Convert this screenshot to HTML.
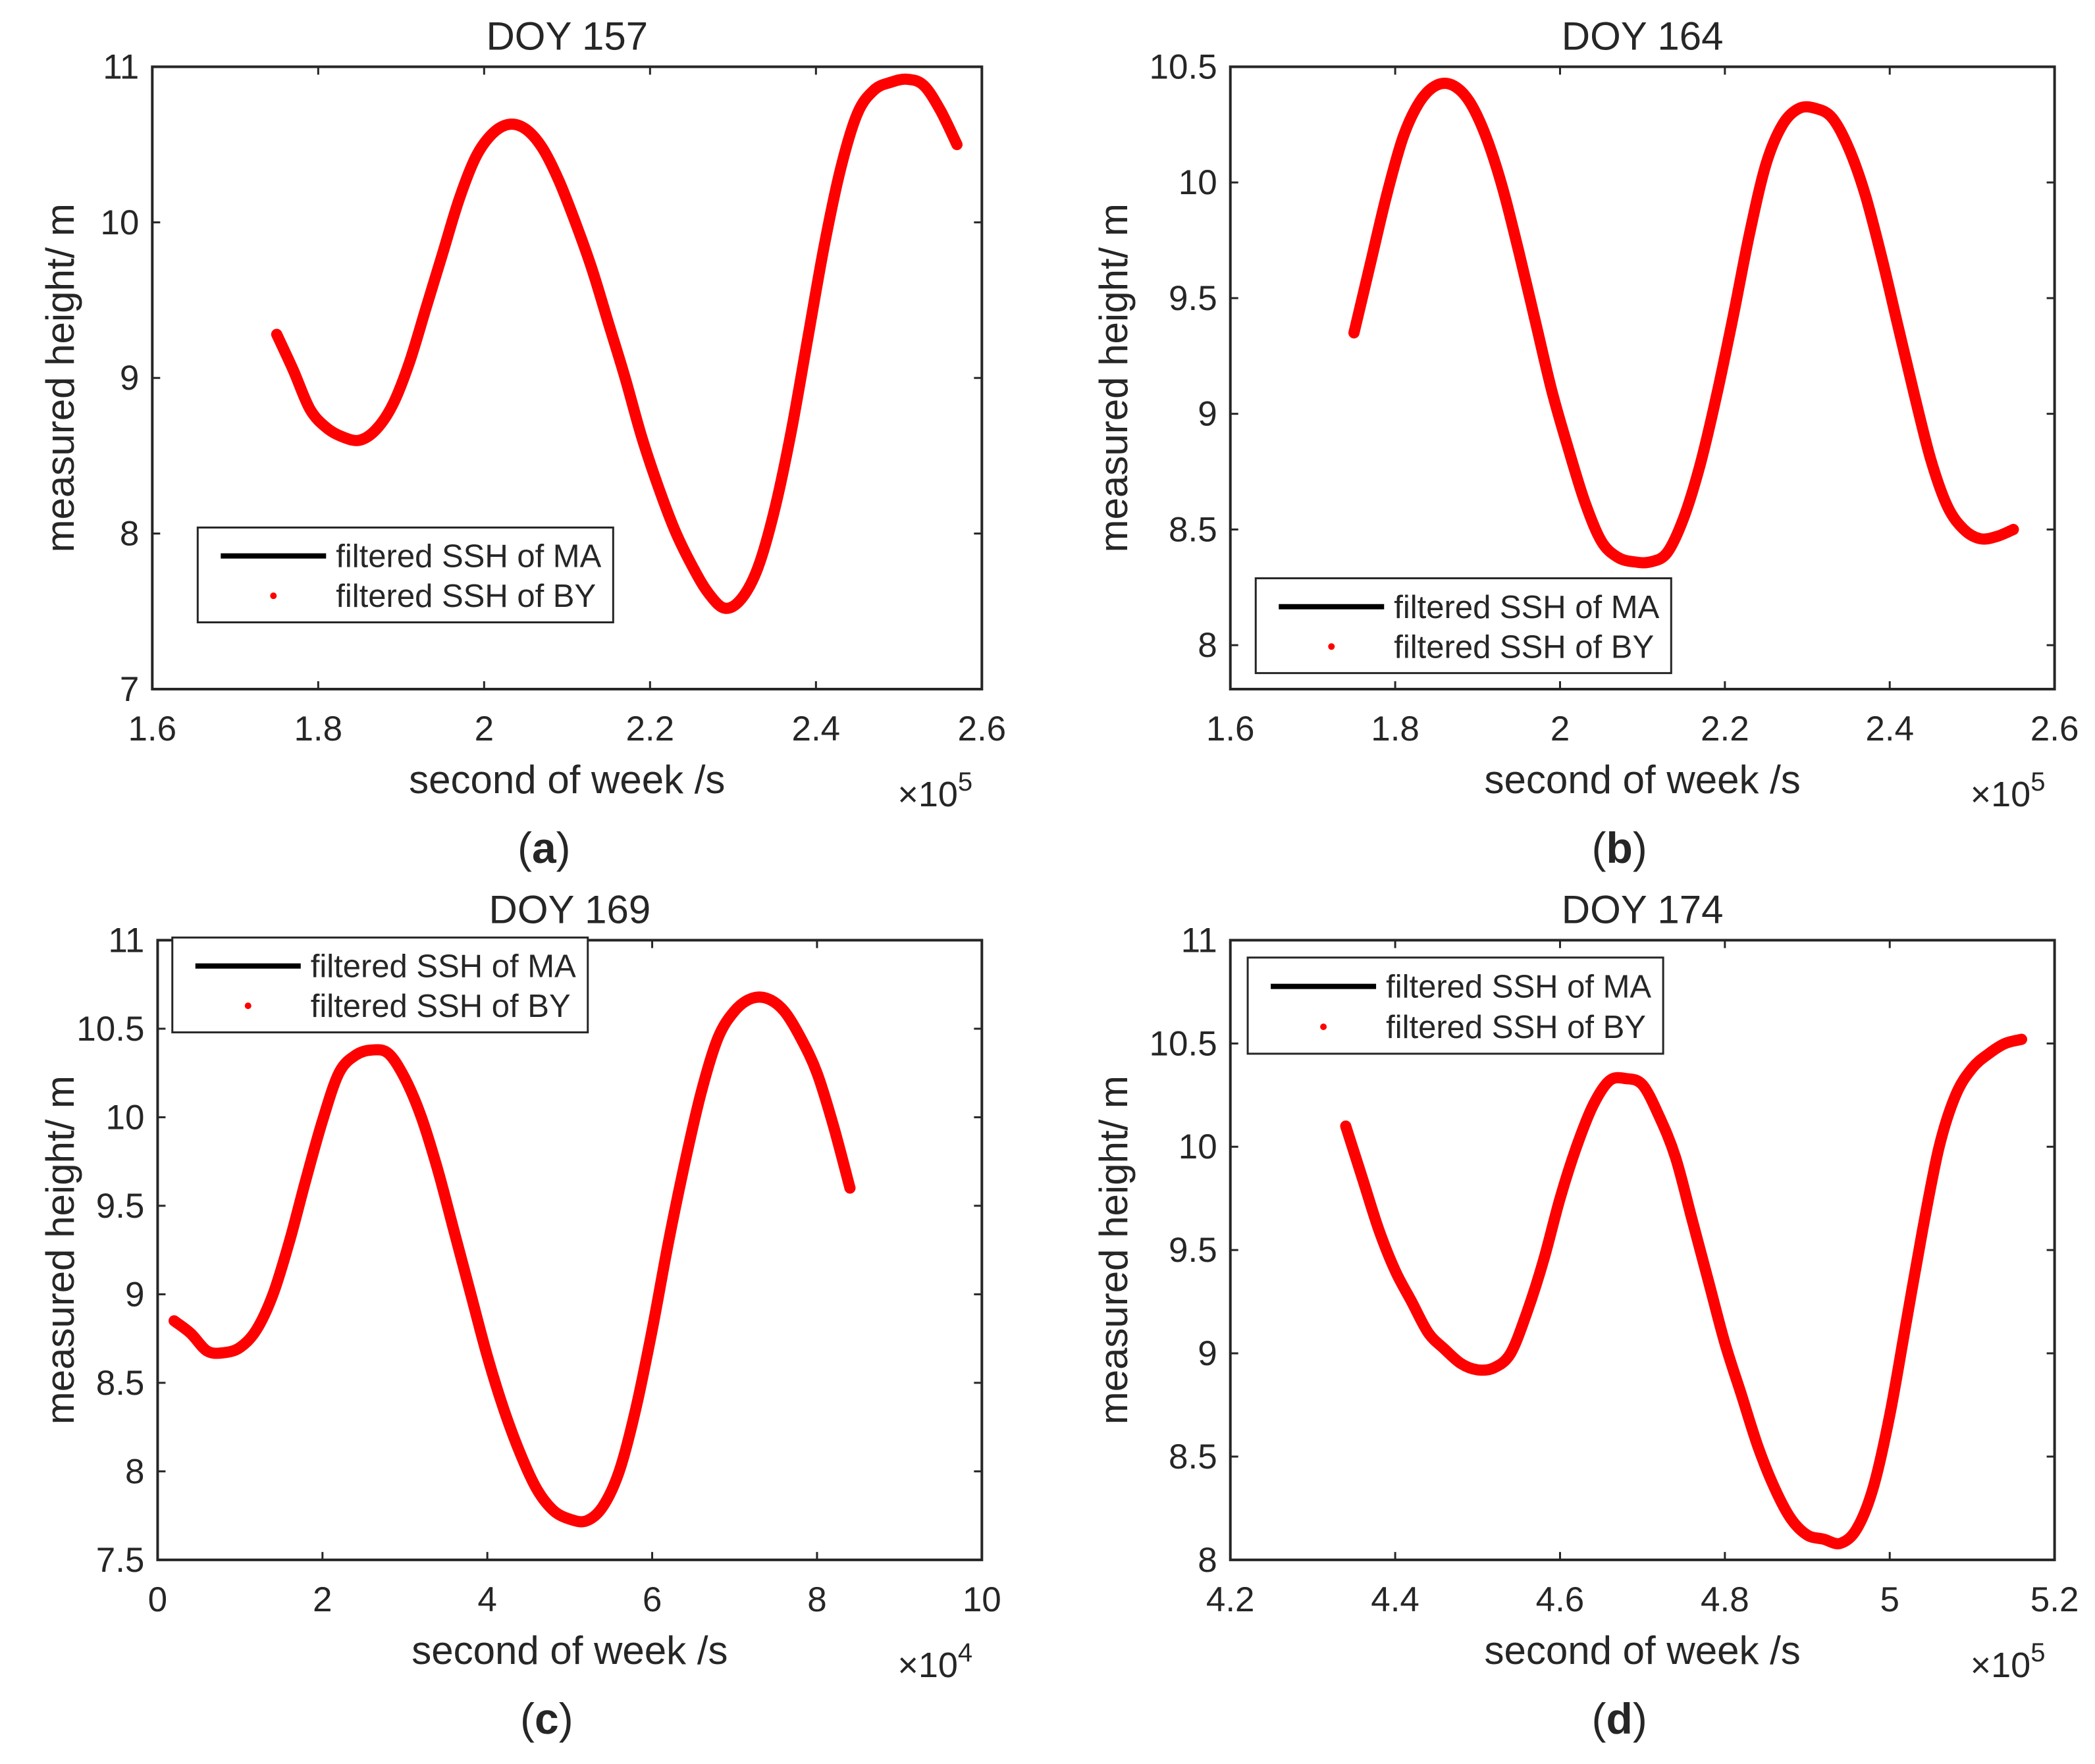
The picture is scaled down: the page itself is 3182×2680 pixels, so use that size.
<!DOCTYPE html>
<html><head><meta charset="utf-8"><style>
html,body{margin:0;padding:0;background:#fff;}
svg{display:block;}
text{font-family:"Liberation Sans",sans-serif;fill:#262626;}
</style></head><body>
<svg id="fig" width="3182" height="2680" viewBox="0 0 3182 2680" xmlns="http://www.w3.org/2000/svg"></svg>
<script>
// Panel (a) DOY 157
const xA=[1.75,1.77,1.79,1.81,1.83,1.85,1.87,1.89,1.91,1.93,1.95,1.97,1.99,2.01,2.03,2.05,2.07,2.09,2.11,2.13,2.15,2.17,2.19,2.21,2.23,2.25,2.27,2.29,2.31,2.33,2.35,2.37,2.39,2.41,2.43,2.45,2.47,2.49,2.51,2.53,2.55,2.57];
const yA=[9.28,9.05,8.8,8.68,8.62,8.6,8.67,8.83,9.1,9.45,9.8,10.15,10.42,10.57,10.63,10.6,10.48,10.27,10.0,9.7,9.35,9.0,8.62,8.3,8.02,7.8,7.62,7.52,7.58,7.78,8.15,8.65,9.25,9.85,10.35,10.7,10.85,10.9,10.92,10.88,10.72,10.5];
// Panel (b) DOY 164
const xB=[1.75,1.77,1.79,1.81,1.83,1.85,1.87,1.89,1.91,1.93,1.95,1.97,1.99,2.01,2.03,2.05,2.07,2.09,2.11,2.13,2.15,2.17,2.19,2.21,2.23,2.25,2.27,2.29,2.31,2.33,2.35,2.37,2.39,2.41,2.43,2.45,2.47,2.49,2.51,2.53,2.55];
const yB=[9.35,9.65,9.95,10.2,10.35,10.42,10.42,10.35,10.2,9.98,9.7,9.4,9.1,8.85,8.62,8.45,8.38,8.36,8.36,8.4,8.55,8.78,9.08,9.42,9.78,10.08,10.25,10.32,10.32,10.28,10.15,9.95,9.68,9.38,9.08,8.8,8.6,8.5,8.46,8.47,8.5];
// Panel (c) DOY 169
const xC=[0.2,0.4,0.6,0.8,1.0,1.2,1.4,1.6,1.8,2.0,2.2,2.4,2.6,2.8,3.0,3.2,3.4,3.6,3.8,4.0,4.2,4.4,4.6,4.8,5.0,5.2,5.4,5.6,5.8,6.0,6.2,6.4,6.6,6.8,7.0,7.2,7.4,7.6,7.8,8.0,8.2,8.4];
const yC=[8.85,8.78,8.68,8.67,8.7,8.8,9.0,9.3,9.65,9.98,10.25,10.35,10.38,10.36,10.22,10.0,9.7,9.35,9.0,8.65,8.35,8.1,7.9,7.78,7.73,7.72,7.8,8.0,8.35,8.8,9.3,9.75,10.15,10.45,10.6,10.67,10.67,10.6,10.45,10.25,9.95,9.6];
// Panel (d) DOY 174
const xD=[4.34,4.36,4.38,4.40,4.42,4.44,4.46,4.48,4.50,4.52,4.54,4.56,4.58,4.60,4.62,4.64,4.66,4.68,4.70,4.72,4.74,4.76,4.78,4.80,4.82,4.84,4.86,4.88,4.90,4.92,4.94,4.96,4.98,5.00,5.02,5.04,5.06,5.08,5.10,5.12,5.14,5.16];
const yD=[10.1,9.85,9.6,9.4,9.25,9.1,9.02,8.95,8.92,8.93,9.0,9.2,9.45,9.75,10.0,10.2,10.32,10.33,10.3,10.15,9.95,9.65,9.35,9.05,8.8,8.55,8.35,8.2,8.12,8.1,8.08,8.15,8.35,8.7,9.15,9.6,10.0,10.25,10.38,10.45,10.5,10.52];
const xTicksAB=[1.6,1.8,2,2.2,2.4,2.6];
const xTicksC=[0,2,4,6,8,10];
const xTicksD=[4.2,4.4,4.6,4.8,5,5.2];
const yTicksA=[7,8,9,10,11];
const yTicksB=[8,8.5,9,9.5,10,10.5];
const yTicksC=[7.5,8,8.5,9,9.5,10,10.5,11];
const yTicksD=[8,8.5,9,9.5,10,10.5,11];

const S=2.029;
const NS="http://www.w3.org/2000/svg";
const svg=document.getElementById('fig');
function mk(tag,attrs,parent){const e=document.createElementNS(NS,tag);for(const k in attrs)e.setAttribute(k,attrs[k]);(parent||svg).appendChild(e);return e;}
function smoothPath(P){
  let d='M'+P[0][0].toFixed(1)+','+P[0][1].toFixed(1);
  for(let i=0;i<P.length-1;i++){
    const p0=P[i-1]||P[i],p1=P[i],p2=P[i+1],p3=P[i+2]||P[i+1];
    const c1=[p1[0]+(p2[0]-p0[0])/6,p1[1]+(p2[1]-p0[1])/6];
    const c2=[p2[0]-(p3[0]-p1[0])/6,p2[1]-(p3[1]-p1[1])/6];
    d+=' C'+c1[0].toFixed(1)+','+c1[1].toFixed(1)+' '+c2[0].toFixed(1)+','+c2[1].toFixed(1)+' '+p2[0].toFixed(1)+','+p2[1].toFixed(1);
  }
  return d;
}

const panels=[
 {id:'a',title:'DOY 157',L:114,R:735,T:50,B:516,x0:1.6,x1:2.6,y0:7,y1:11,xs:xA,ys:yA,xt:xTicksAB,yt:yTicksA,exp:'5',leg:[148,395,459,466]},
 {id:'b',title:'DOY 164',L:921,R:1538,T:50,B:516,x0:1.6,x1:2.6,y0:7.81,y1:10.5,xs:xB,ys:yB,xt:xTicksAB,yt:yTicksB,exp:'5',leg:[940,433,1251,504]},
 {id:'c',title:'DOY 169',L:118,R:735,T:704,B:1168,x0:0,x1:10,y0:7.5,y1:11,xs:xC,ys:yC,xt:xTicksC,yt:yTicksC,exp:'4',leg:[129,702,440,773]},
 {id:'d',title:'DOY 174',L:921,R:1538,T:704,B:1168,x0:4.2,x1:5.2,y0:8,y1:11,xs:xD,ys:yD,xt:xTicksD,yt:yTicksD,exp:'5',leg:[934,717,1245,789]}
];

panels.forEach(p=>{
  const L=p.L*S,R=p.R*S,T=p.T*S,B=p.B*S;
  const X=v=>L+(v-p.x0)/(p.x1-p.x0)*(R-L);
  const Y=v=>B-(v-p.y0)/(p.y1-p.y0)*(B-T);
  const g=mk('g',{});
  
  
  const t=mk('text',{x:(L+R)/2,y:T-26,'font-size':60,'text-anchor':'middle'},g);t.textContent=p.title;
  
  
  const P=p.xs.map((x,i)=>[X(x),Y(p.ys[i])]);
  const d=smoothPath(P);
  const lm=mk('path',{d:d,fill:'none',stroke:'#000','stroke-width':10,'stroke-linejoin':'round'},g);
  
  
  const lb=mk('path',{d:d,fill:'none',stroke:'#ff0000','stroke-width':17,'stroke-linejoin':'round','stroke-linecap':'round'},g);
  
  
  const bx=mk('rect',{x:L,y:T,width:R-L,height:B-T,fill:'none',stroke:'#262626','stroke-width':4},g);
  
  
  const tl=12;
  p.xt.forEach(v=>{
    const x=X(v);
    mk('line',{x1:x,y1:B,x2:x,y2:B-tl,stroke:'#262626','stroke-width':3},g);
    mk('line',{x1:x,y1:T,x2:x,y2:T+tl,stroke:'#262626','stroke-width':3},g);
    const tx=mk('text',{x:x,y:B+78,'font-size':53,'text-anchor':'middle'},g);tx.textContent=String(v);
    
    
  });
  p.yt.forEach(v=>{
    const y=Y(v);
    mk('line',{x1:L,y1:y,x2:L+tl,y2:y,stroke:'#262626','stroke-width':3},g);
    mk('line',{x1:R,y1:y,x2:R-tl,y2:y,stroke:'#262626','stroke-width':3},g);
    const ty=mk('text',{x:L-20,y:y+18,'font-size':53,'text-anchor':'end'},g);ty.textContent=String(v);
    
    
  });
  const xl=mk('text',{x:(L+R)/2,y:B+158,'font-size':60,'text-anchor':'middle'},g);xl.textContent='second of week /s';
  
  
  const ex=mk('text',{x:R-128,y:B+178,'font-size':54},g);
  ex.innerHTML='\u00d710<tspan dy="-24" font-size="40">'+p.exp+'</tspan>';
  
  
  const yx=(p.id==='a'||p.id==='c')?112:1712;
  const yl=mk('text',{x:yx,y:(T+B)/2,'font-size':60,'text-anchor':'middle',transform:'rotate(-90 '+yx+' '+(T+B)/2+')'},g);yl.textContent='measured height/ m';
  
  
  const cap=mk('text',{x:(L+R)/2-35,y:B+264,'font-size':66,'text-anchor':'middle','font-family':'Liberation Serif, serif'},g);
  cap.innerHTML='(<tspan font-weight="bold">'+p.id+'</tspan>)';
  
  
  const [lx1,ly1,lx2,ly2]=p.leg.map(v=>v*S);
  const lg=mk('g',{},g);
  
  
  mk('rect',{x:lx1,y:ly1,width:lx2-lx1,height:ly2-ly1,fill:'#fff',stroke:'#262626','stroke-width':3},lg);
  const h=ly2-ly1;
  mk('line',{x1:lx1+35,y1:ly1+h*0.3,x2:lx1+195,y2:ly1+h*0.3,stroke:'#000','stroke-width':8},lg);
  mk('circle',{cx:lx1+115,cy:ly1+h*0.72,r:5,fill:'#ff0000'},lg);
  const e1=mk('text',{x:lx1+210,y:ly1+h*0.3+17,'font-size':49,fill:'#000'},lg);e1.textContent='filtered SSH of MA';
  
  
  const e2=mk('text',{x:lx1+210,y:ly1+h*0.72+17,'font-size':49,fill:'#000'},lg);e2.textContent='filtered SSH of BY';
  
  
});
</script>
</body></html>
